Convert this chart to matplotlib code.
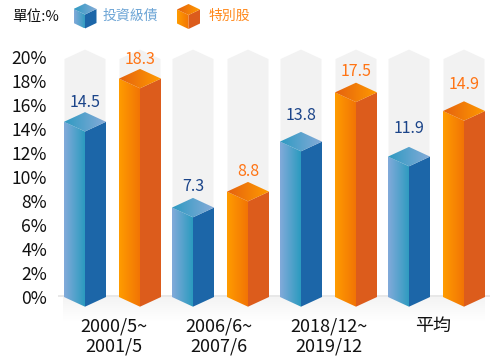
import numpy as np
import matplotlib
matplotlib.use('Agg')
import matplotlib.pyplot as plt
from matplotlib.colors import LinearSegmentedColormap
from matplotlib.patches import Polygon
from matplotlib.transforms import ScaledTranslation

plt.rcParams['font.family'] = ['Noto Sans CJK TC', 'DejaVu Sans']

periods = ['2000/5~\n2001/5', '2006/6~\n2007/6', '2018/12~\n2019/12', '平均']
series_names = ['投資級債', '特別股']
# printed labels
ig_labels = ['14.5', '7.3', '13.8', '11.9']
pref_labels = ['18.3', '8.8', '17.5', '14.9']
# bar heights as drawn
ig_values = [14.6, 7.45, 12.95, 11.7]
pref_values = [18.2, 8.78, 17.05, 15.5]
y_ticks = list(range(0, 21, 2))

W, H = 500, 360
fig = plt.figure(figsize=(W / 100, H / 100), dpi=100, facecolor='white')
# axes: y 0 at pixel 297, y 20 at pixel 57; x unit = 108 px, group 0 at pixel 112.5
L, R = 58, 490
ax = fig.add_axes([L / W, (H - 297) / H, (R - L) / W, 240 / H])
XLIM = ((L - 112.5) / 108, (R - 112.5) / 108)
for s in ax.spines.values():
    s.set_visible(False)
ax.patch.set_alpha(0)

PX = 1 / 108          # x units per pixel
PY = 1 / 12           # y units per pixel
HALF = 21
DEPTH = 9.7
OFFSET = 27.5

BLUE = dict(left=('#82aada', '#2b9bbf'), right='#1c66a8', top=('#2f9ac2', '#85abd8'))
ORANGE = dict(left=('#ff9c00', '#f27405'), right='#dc5c1c', top=('#e5620f', '#ff9a00'))


def grad(axis, poly_xy, c0, c1, zorder=3):
    cmap = LinearSegmentedColormap.from_list('g', [c0, c1])
    xs = [p[0] for p in poly_xy]
    ys = [p[1] for p in poly_xy]
    im = axis.imshow(np.linspace(0, 1, 64)[None, :],
                     extent=(min(xs), max(xs), min(ys), max(ys)), aspect='auto', cmap=cmap,
                     zorder=zorder, interpolation='bilinear')
    patch = Polygon(poly_xy, closed=True, transform=axis.transData, fc='none', ec='none',
                    clip_on=False)
    axis.add_patch(patch)
    im.set_clip_path(patch)
    im.set_clip_box(fig.bbox)


def draw_bar(offset, group, value, colors):
    c = group + offset * PX
    hw = HALF * PX
    dp = DEPTH * PY
    left = [(c - hw, 0), (c, -dp), (c, value - dp), (c - hw, value)]
    right = [(c, -dp), (c + hw, 0), (c + hw, value), (c, value - dp)]
    top = [(c - hw, value), (c, value - dp), (c + hw, value), (c, value + dp)]
    grad(ax, left, *colors['left'])
    ax.add_patch(Polygon(right, closed=True, fc=colors['right'], ec='none', zorder=3, clip_on=False))
    grad(ax, top, *colors['top'])


def panel(offset, group):
    c = group + offset * PX
    hw = 20.5 * PX
    pts = [(c - hw, 0), (c - hw, 19.83), (c, 20.62), (c + hw, 19.83), (c + hw, 0)]
    ax.add_patch(Polygon(pts, closed=True, fc='#f2f2f2', ec='none', zorder=1, clip_on=False))


# floor band and soft shadow
ax.add_patch(Polygon([(XLIM[0], 0.17), (XLIM[1], 0.17), (XLIM[1], 0), (XLIM[0], 0)],
                     closed=True, fc='#e8e8e8', ec='none', zorder=1, clip_on=False))
shadow = LinearSegmentedColormap.from_list('s', ['#f4f4f4', '#ffffff'])
sh = ax.imshow(np.linspace(0, 1, 64)[:, None], extent=(XLIM[0] + 0.05, XLIM[1] - 0.05, -2.0, 0),
               origin='upper', aspect='auto', cmap=shadow, zorder=0.5)
sh.set_clip_box(fig.bbox)

ig_gap = [10, 11, 16, 18]
pref_gap = [9, 10, 11, 17]

for i in range(len(periods)):
    panel(-OFFSET, i)
    panel(OFFSET, i)
    draw_bar(-OFFSET, i, ig_values[i], BLUE)
    draw_bar(OFFSET, i, pref_values[i], ORANGE)
    ax.text(i - OFFSET * PX, ig_values[i] + (DEPTH + ig_gap[i]) * PY, ig_labels[i],
            ha='center', va='center', color='#1b4489', fontsize=11.5, zorder=5)
    ax.text(i + OFFSET * PX, pref_values[i] + (DEPTH + pref_gap[i]) * PY, pref_labels[i],
            ha='center', va='center', color='#ff7414', fontsize=11.5, zorder=5)

ax.set_xlim(*XLIM)
ax.set_ylim(0, 20)

ax.set_yticks(y_ticks)
ax.set_yticklabels([f'{v}%' for v in y_ticks], fontsize=12.6, color='#111111')
ax.set_xticks(range(len(periods)))
ax.set_xticklabels(periods, fontsize=13, color='#111111', linespacing=1.16)
ax.tick_params(axis='both', length=0)
ax.tick_params(axis='y', pad=8)
ax.tick_params(axis='x', pad=14.5)

# nudge the category labels to where the reference centres them
for lab, dx in zip(ax.get_xticklabels(), [1.5, -1.5, 0.5, -3.5]):
    lab.set_transform(lab.get_transform() + ScaledTranslation(dx / 100, 0, fig.dpi_scale_trans))

# legend in figure pixels (y flipped)
lax = fig.add_axes([0, 0, 1, 1], facecolor='none')
lax.axis('off')
lax.set_zorder(-1)


def legend_cube(cx, apex, colors):
    hw, dp = 11.5, 5.5
    mid = apex + dp
    bot = apex + 25
    left = [(cx - hw, mid), (cx, mid + dp), (cx, bot), (cx - hw, bot - dp)]
    right = [(cx, mid + dp), (cx + hw, mid), (cx + hw, bot - dp), (cx, bot)]
    topf = [(cx - hw, mid), (cx, mid + dp), (cx + hw, mid), (cx, apex)]
    grad(lax, left, *colors['left'])
    lax.add_patch(Polygon(right, closed=True, fc=colors['right'], ec='none'))
    grad(lax, topf, *colors['top'])


legend_cube(85, 3.5, BLUE)
legend_cube(188.5, 4, ORANGE)
lax.set_xlim(0, W)
lax.set_ylim(H, 0)
lax.text(12, 16.5, '單位:%', fontsize=10.5, va='center', ha='left', color='#111111', fontweight='medium')
lax.text(103, 16, series_names[0], fontsize=10, va='center', ha='left', color='#6fa6d6', fontweight='medium')
lax.text(209, 16, series_names[1], fontsize=10, va='center', ha='left', color='#ff8a1e', fontweight='medium')

fig.savefig('out.png', dpi=100, facecolor='white')
